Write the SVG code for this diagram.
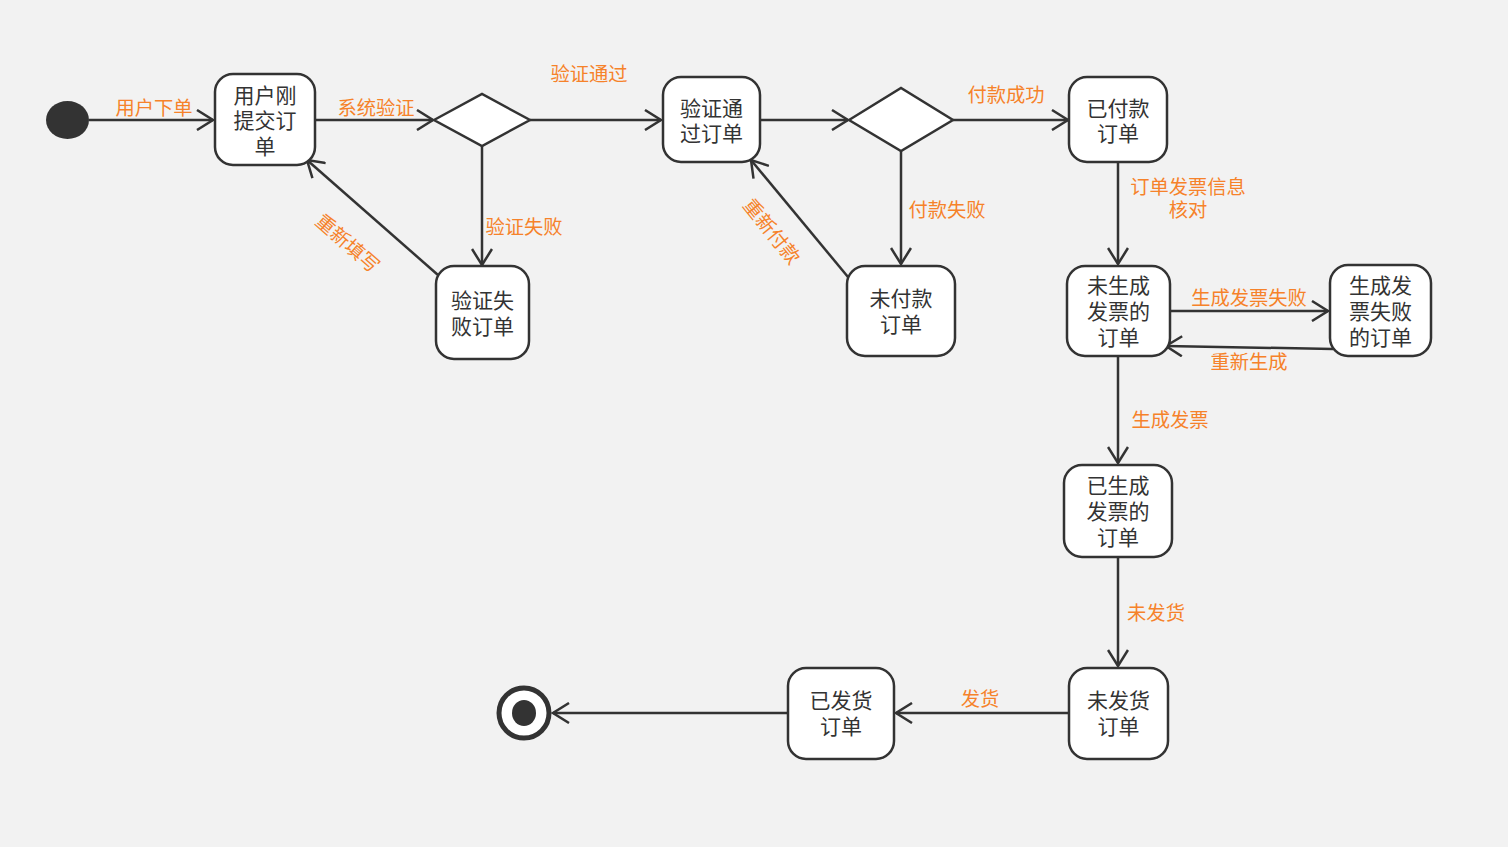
<svg xmlns="http://www.w3.org/2000/svg" width="1508" height="847" viewBox="0 0 1508 847">
<defs>
<style>
.node{fill:#ffffff;stroke:#333333;stroke-width:2.5}
.nt{font-family:"Liberation Sans","Noto Sans CJK SC",sans-serif;font-size:21px;fill:#333333;text-anchor:middle}
.lb{font-family:"Liberation Sans","Noto Sans CJK SC",sans-serif;font-size:19.3px;fill:#f6822a;text-anchor:middle}
.edge{fill:none;stroke:#333333;stroke-width:2.5}
</style>
<marker id="arr" viewBox="0 0 20 22" refX="18" refY="11" markerWidth="20" markerHeight="22" markerUnits="userSpaceOnUse" orient="auto">
<path d="M2,1 L18,11 L2,21" fill="none" stroke="#333333" stroke-width="2.5"/>
</marker>
</defs>
<rect x="0" y="0" width="1508" height="847" fill="#f2f2f2"/>
<g id="connectors">
<path class="edge" d="M89,120 L213,120" marker-end="url(#arr)"/>
<path class="edge" d="M315,120 L433,120" marker-end="url(#arr)"/>
<path class="edge" d="M530,120 L661,120" marker-end="url(#arr)"/>
<path class="edge" d="M482,146 L482,265" marker-end="url(#arr)"/>
<path class="edge" d="M438,275 L307,160" marker-end="url(#arr)"/>
<path class="edge" d="M760,120 L848,120" marker-end="url(#arr)"/>
<path class="edge" d="M953,120 L1068,120" marker-end="url(#arr)"/>
<path class="edge" d="M901,151 L901,264" marker-end="url(#arr)"/>
<path class="edge" d="M848,277 L751,160" marker-end="url(#arr)"/>
<path class="edge" d="M1118,162 L1118,264" marker-end="url(#arr)"/>
<path class="edge" d="M1170,311 L1328,311" marker-end="url(#arr)"/>
<path class="edge" d="M1333,349 L1166,346" marker-end="url(#arr)"/>
<path class="edge" d="M1118,356 L1118,463" marker-end="url(#arr)"/>
<path class="edge" d="M1118,557 L1118,666" marker-end="url(#arr)"/>
<path class="edge" d="M1069,713 L896,713" marker-end="url(#arr)"/>
<path class="edge" d="M788,713 L553,713" marker-end="url(#arr)"/>
<text class="lb" x="154" y="115">用户下单</text>
<text class="lb" x="376" y="115">系统验证</text>
<text class="lb" x="589" y="81">验证通过</text>
<text class="lb" x="524" y="234">验证失败</text>
<text class="lb" transform="translate(347,244) rotate(41)" y="6">重新填写</text>
<text class="lb" x="1006" y="102">付款成功</text>
<text class="lb" x="947" y="217">付款失败</text>
<text class="lb" transform="translate(771,232) rotate(51)" y="6">重新付款</text>
<text class="lb" x="1188" y="194">订单发票信息</text>
<text class="lb" x="1188" y="217">核对</text>
<text class="lb" x="1249" y="305">生成发票失败</text>
<text class="lb" x="1249" y="369">重新生成</text>
<text class="lb" x="1170" y="427">生成发票</text>
<text class="lb" x="1156" y="620">未发货</text>
<text class="lb" x="980" y="706">发货</text>
</g>
<g id="start"><ellipse cx="67.5" cy="120" rx="21.5" ry="19" fill="#333333"/></g>
<g id="n1"><rect class="node" x="215" y="74" width="100" height="91" rx="18"/>
<text class="nt" x="265" y="102.5">用户刚</text><text class="nt" x="265" y="128">提交订</text><text class="nt" x="265" y="153.5">单</text></g>
<g id="d1"><polygon class="node" points="434,120 482,94 530,120 482,146"/></g>
<g id="n2"><rect class="node" x="663" y="77" width="97" height="85" rx="18"/>
<text class="nt" x="711.5" y="115.5">验证通</text><text class="nt" x="711.5" y="141">过订单</text></g>
<g id="n3"><rect class="node" x="436" y="266" width="93" height="93" rx="18"/>
<text class="nt" x="482.5" y="307.5">验证失</text><text class="nt" x="482.5" y="333.5">败订单</text></g>
<g id="d2"><polygon class="node" points="849,120 901,88 953,120 901,151"/></g>
<g id="n4"><rect class="node" x="1069" y="77" width="98" height="85" rx="18"/>
<text class="nt" x="1118" y="115.5">已付款</text><text class="nt" x="1118" y="141">订单</text></g>
<g id="n5"><rect class="node" x="847" y="266" width="108" height="90" rx="18"/>
<text class="nt" x="901" y="305.5">未付款</text><text class="nt" x="901" y="331.5">订单</text></g>
<g id="n6"><rect class="node" x="1067" y="266" width="103" height="90" rx="18"/>
<text class="nt" x="1118.5" y="292.5">未生成</text><text class="nt" x="1118.5" y="318.5">发票的</text><text class="nt" x="1118.5" y="344.5">订单</text></g>
<g id="n7"><rect class="node" x="1330" y="265" width="101" height="91" rx="18"/>
<text class="nt" x="1380.5" y="292.5">生成发</text><text class="nt" x="1380.5" y="318.5">票失败</text><text class="nt" x="1380.5" y="344.5">的订单</text></g>
<g id="n8"><rect class="node" x="1064" y="465" width="108" height="92" rx="18"/>
<text class="nt" x="1118" y="492.5">已生成</text><text class="nt" x="1118" y="518.5">发票的</text><text class="nt" x="1118" y="544.5">订单</text></g>
<g id="n9"><rect class="node" x="1069" y="668" width="99" height="91" rx="18"/>
<text class="nt" x="1118.5" y="707.5">未发货</text><text class="nt" x="1118.5" y="733.5">订单</text></g>
<g id="n10"><rect class="node" x="788" y="668" width="106" height="91" rx="18"/>
<text class="nt" x="841" y="707.5">已发货</text><text class="nt" x="841" y="733.5">订单</text></g>
<g id="end"><circle cx="524" cy="713" r="25" fill="#ffffff" stroke="#333333" stroke-width="5"/><ellipse cx="524" cy="713" rx="12" ry="13" fill="#333333"/></g>
</svg>
